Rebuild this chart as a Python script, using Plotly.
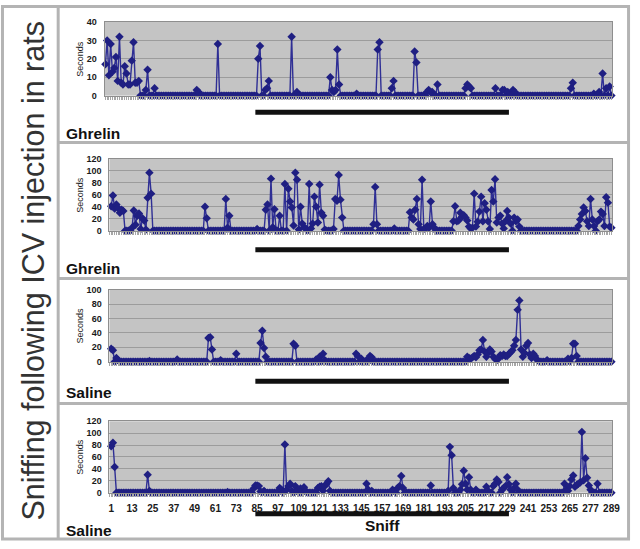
import plotly.graph_objects as go

# ---------------- data ----------------
days = list(range(1, 290))
x_tick_vals = list(range(1, 290, 12))
x_tick_labels = [str(v) for v in x_tick_vals]

panel_titles = ["Ghrelin", "Ghrelin", "Saline", "Saline"]
y_max = [40, 120, 100, 120]
y_step = [10, 20, 20, 20]

# non-zero readings (day: seconds); every other day reads 0
ghrelin_a_nonzero = {
    1: 17, 2: 30, 3: 11, 4: 28, 5: 13, 6: 15, 7: 21, 8: 8, 9: 32, 10: 7, 11: 6, 12: 16,
    13: 12, 14: 6, 15: 6, 16: 19, 17: 29, 18: 7, 19: 7, 20: 8, 24: 3, 25: 14, 29: 4,
    53: 3, 54: 2, 65: 28, 88: 20, 89: 27, 92: 3, 93: 4, 94: 8, 107: 32, 110: 2,
    129: 10, 130: 3, 131: 2, 132: 3, 133: 25, 134: 6, 144: 1, 156: 25, 157: 29,
    164: 4, 165: 8, 177: 24, 178: 18, 184: 2, 185: 3, 186: 2, 187: 2, 190: 6,
    206: 4, 207: 6, 208: 5, 209: 4, 223: 4, 227: 3, 228: 3, 230: 2, 233: 3, 234: 2,
    266: 4, 267: 7, 279: 1, 282: 2, 284: 12, 286: 4, 288: 5,
}
ghrelin_b_nonzero = {
    1: 41, 2: 59, 3: 37, 4: 44, 5: 38, 6: 30, 7: 35, 8: 33, 13: 5, 14: 34, 15: 10,
    16: 25, 17: 29, 18: 3, 19: 21, 20: 17, 21: 2, 22: 55, 23: 97, 24: 62,
    55: 40, 56: 21, 67: 53, 68: 5, 69: 25, 85: 3, 90: 35, 91: 44, 93: 87, 94: 6,
    95: 36, 98: 25, 101: 78, 103: 70, 104: 49, 105: 39, 106: 9, 107: 97, 108: 85,
    109: 2, 110: 40, 111: 12, 112: 6, 113: 4, 115: 78, 116: 4, 117: 12, 118: 57,
    119: 40, 120: 14, 121: 77, 122: 30, 123: 25, 124: 2, 129: 3, 130: 53, 131: 50,
    132: 93, 133: 52, 134: 22, 152: 11, 153: 73, 154: 11, 164: 4, 173: 31, 174: 22,
    175: 19, 176: 35, 177: 53, 178: 11, 179: 3, 180: 85, 181: 3, 182: 4, 183: 8,
    184: 5, 185: 49, 186: 11, 187: 5, 198: 16, 199: 41, 200: 16, 201: 17, 202: 30,
    203: 24, 204: 26, 205: 22, 206: 17, 207: 7, 208: 4, 209: 5, 210: 62, 211: 7,
    212: 15, 213: 32, 214: 57, 215: 16, 216: 46, 217: 35, 218: 16, 219: 3, 220: 68,
    221: 49, 222: 86, 223: 14, 224: 22, 225: 25, 226: 12, 227: 4, 228: 16, 229: 33,
    230: 22, 231: 12, 233: 22, 234: 16, 235: 19, 236: 7, 270: 8, 271: 19, 272: 28,
    273: 39, 274: 33, 275: 16, 276: 8, 277: 53, 278: 19, 279: 8, 281: 16, 282: 19,
    283: 32, 284: 28, 285: 8, 286: 56, 287: 47, 288: 7, 289: 5,
}
saline_a_nonzero = {
    1: 18, 2: 16, 4: 5, 5: 2, 23: 1, 39: 3, 57: 33, 58: 34, 59: 17, 64: 2, 73: 11,
    87: 26, 88: 43, 89: 19, 90: 7, 106: 25, 107: 22, 119: 3, 121: 7, 123: 11, 124: 2,
    142: 11, 143: 8, 145: 4, 148: 2, 150: 8, 151: 6, 206: 7, 207: 5, 208: 4, 209: 6,
    210: 8, 211: 6, 212: 10, 213: 16, 214: 17, 215: 30, 216: 14, 217: 7, 218: 12,
    219: 17, 220: 14, 221: 7, 222: 4, 223: 2, 224: 5, 225: 9, 226: 8, 227: 10,
    228: 8, 229: 8, 230: 11, 231: 13, 232: 16, 233: 22, 234: 30, 235: 72, 236: 85,
    237: 17, 238: 7, 239: 12, 240: 22, 241: 26, 242: 10, 243: 5, 244: 11, 245: 8,
    246: 3, 247: 1, 252: 2, 264: 4, 266: 5, 267: 25, 268: 25, 269: 8,
}
saline_b_nonzero = {
    1: 78, 2: 84, 3: 43, 22: 30, 23: 3, 68: 1, 83: 7, 84: 12, 85: 12, 86: 11, 87: 2,
    89: 3, 98: 8, 99: 5, 101: 81, 102: 5, 103: 11, 104: 15, 105: 3, 107: 11, 108: 3,
    110: 7, 112: 9, 113: 3, 120: 8, 121: 10, 122: 11, 123: 3, 124: 11, 125: 15,
    126: 19, 127: 3, 148: 15, 149: 5, 151: 3, 163: 5, 164: 3, 166: 8, 167: 11,
    168: 28, 169: 8, 185: 12, 195: 3, 196: 77, 197: 63, 198: 8, 202: 5, 203: 14,
    204: 37, 205: 15, 206: 5, 207: 26, 208: 5, 211: 5, 217: 10, 218: 3, 221: 11,
    222: 15, 223: 22, 224: 18, 226: 5, 227: 8, 228: 11, 229: 26, 230: 14, 231: 5,
    233: 8, 234: 15, 235: 5, 262: 15, 263: 5, 264: 3, 265: 11, 266: 22, 267: 29,
    268: 10, 269: 13, 270: 15, 271: 17, 272: 102, 273: 21, 274: 58, 275: 25,
    276: 12, 277: 5, 281: 15,
}

sniff_period = (84, 230)
sniff_label = "Sniff"
main_title = "Sniffing following ICV injection in rats"
y_title = "Seconds"

series = [
    [ghrelin_a_nonzero.get(d, 0) for d in days],
    [ghrelin_b_nonzero.get(d, 0) for d in days],
    [saline_a_nonzero.get(d, 0) for d in days],
    [saline_b_nonzero.get(d, 0) for d in days],
]

# ---------------- layout geometry (pixels) ----------------
W, H = 640, 549
plot_boxes = [(105, 620, 17.3, 92.3), (110, 620, 156.7, 230.0),
              (110, 620, 290.0, 363.3), (110, 620, 424.0, 496.7)]
x_ranges = [[0.5, 289.5], [0, 289.5], [0, 289.5], [0, 289.5]]
bar_y = [109.3, 249.3, 383.3, 518.3]
label_y = [130.7, 268.0, 395.0, 535.0]
frame_h = [140.0, 278.5, 406.0]


def px(x):
    return x / W


def py(y):
    return 1 - y / H


FONT = "Liberation Sans, Arial, sans-serif"
NAVY_LINE = "#2f2f95"
NAVY_MARK = "#1f1f82"

fig = go.Figure()
layout = dict(
    width=W, height=H, margin=dict(l=0, r=0, t=0, b=0),
    paper_bgcolor="white", plot_bgcolor="#c4c4c4", showlegend=False,
    font=dict(family=FONT, color="#1a1a1a"),
)

shapes = []
annotations = []
for k in range(4):
    n = k + 1
    x0, x1, ytop, ybot = plot_boxes[k]
    fig.add_trace(go.Scatter(
        x=days, y=series[k], mode="lines+markers",
        line=dict(color=NAVY_LINE, width=1.4),
        marker=dict(symbol="diamond", size=6.5, color=NAVY_MARK),
        xaxis=f"x{n}", yaxis=f"y{n}", cliponaxis=False, hoverinfo="x+y",
    ))
    layout[f"xaxis{n}" if n > 1 else "xaxis"] = dict(
        domain=[px(x0), px(x1)], range=x_ranges[k], anchor=f"y{n}",
        showgrid=False, zeroline=False, showline=True, mirror=True,
        linecolor="#8e8e8e", linewidth=1,
        tickmode="array", tickvals=x_tick_vals, ticktext=x_tick_labels,
        showticklabels=(k == 3), ticks="", ticklabelstandoff=6,
        tickfont=dict(size=10, family=FONT, weight="bold", color="#1a1a1a"),
        minor=dict(ticks="outside", ticklen=3, tickcolor="#a6a6a6", tickwidth=1,
                   dtick=1, tick0=0, showgrid=False),
        fixedrange=True,
    )
    layout[f"yaxis{n}" if n > 1 else "yaxis"] = dict(
        domain=[py(ybot), py(ytop)], range=[0, y_max[k]], anchor=f"x{n}",
        dtick=y_step[k], showgrid=True, gridcolor="#9c9c9c", gridwidth=1,
        zeroline=False, showline=True, mirror=True, linecolor="#8e8e8e", linewidth=1,
        ticks="", ticklabelstandoff=5,
        tickfont=dict(size=9, family=FONT, weight="bold", color="#1a1a1a"),
        fixedrange=True,
    )
    # y-axis title
    annotations.append(dict(
        text=y_title, x=px(80), y=py((ytop + ybot) / 2), xref="paper", yref="paper",
        textangle=-90, showarrow=False, xanchor="center", yanchor="middle",
        font=dict(size=9, family=FONT, color="#1a1a1a"),
    ))
    # panel label
    annotations.append(dict(
        text=panel_titles[k], x=px(64), y=py(label_y[k]), xref="paper", yref="paper",
        showarrow=False, xanchor="left", yanchor="middle",
        font=dict(size=15.5, family=FONT, weight="bold", color="#111111"),
    ))
    # sniff period bar
    shapes.append(dict(
        type="line", xref="x4", yref="paper", x0=sniff_period[0], x1=sniff_period[1],
        y0=py(bar_y[k]), y1=py(bar_y[k]), line=dict(color="#111111", width=5),
    ))

annotations.append(dict(
    text=sniff_label, x=(sniff_period[0] + sniff_period[1]) / 2, xref="x4",
    y=py(530), yref="paper", showarrow=False, xanchor="center", yanchor="middle",
    font=dict(size=15.5, family=FONT, weight="bold", color="#111111"),
))
annotations.append(dict(
    text=main_title, x=px(33), y=py(271), xref="paper", yref="paper",
    textangle=-90, showarrow=False, xanchor="center", yanchor="middle",
    font=dict(size=30.5, family=FONT, color="#333333"),
))

# frame lines
FRAME = "#b4b4b4"
shapes.append(dict(type="rect", xref="paper", yref="paper", x0=px(1.5), x1=px(636.5),
                   y0=py(544), y1=py(1.5), line=dict(color=FRAME, width=3)))
shapes.append(dict(type="line", xref="paper", yref="paper", x0=px(58), x1=px(58),
                   y0=py(544), y1=py(1.5), line=dict(color=FRAME, width=3)))
for hy in frame_h:
    shapes.append(dict(type="line", xref="paper", yref="paper", x0=px(58), x1=px(636.5),
                       y0=py(hy), y1=py(hy), line=dict(color=FRAME, width=3)))

layout["shapes"] = shapes
layout["annotations"] = annotations
fig.update_layout(**layout)
fig.write_html("out.html", config={"displayModeBar": False},
               post_script="document.body.style.margin='0px';")
